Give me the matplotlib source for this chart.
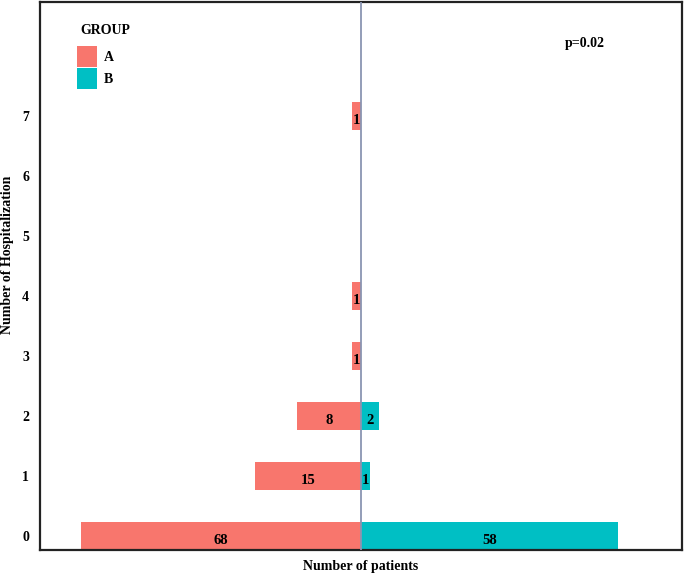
import numpy as np
import matplotlib
matplotlib.use("Agg")
import matplotlib.pyplot as plt
from matplotlib.patches import Patch

plt.rcParams['font.family'] = ['Liberation Serif', 'DejaVu Serif']
plt.rcParams['font.weight'] = 'bold'

hospitalizations = [0, 1, 2, 3, 4, 5, 6, 7]
group_a = [68, 15, 8, 1, 1, 0, 0, 1]
group_b = [58, 1, 2, 0, 0, 0, 0, 0]
group_names = ["A", "B"]
colors = ["#F8766D", "#00BFC4"]
p_text = "p=0.02"

C = 20.0
def fwd(x):
    x = np.asarray(x, dtype=float)
    return np.sign(x) * np.log1p(np.abs(x) / C)
def inv(y):
    y = np.asarray(y, dtype=float)
    return np.sign(y) * C * np.expm1(np.abs(y))

fig = plt.figure(figsize=(6.85, 5.76), dpi=100)
ax = fig.add_axes([40/685, 1 - 550/576, (682-40)/685, (550-2)/576])
ax.set_xscale('function', functions=(fwd, inv))

h = 0.467
ya = np.array(hospitalizations, dtype=float)
a = np.array(group_a, dtype=float)
b = np.array(group_b, dtype=float)
ax.barh(ya, -a, height=h, color=colors[0], edgecolor='none', zorder=2)
ax.barh(ya, b, height=h, color=colors[1], edgecolor='none', zorder=2)

for y, v in zip(ya, a):
    if v > 0:
        xm = -float(inv(fwd(v) / 2))
        ax.text(xm, y - 0.07, f"{int(v)}", ha='center', va='center',
                fontsize=10.5, fontweight='bold', zorder=4)
for y, v in zip(ya, b):
    if v > 0:
        xm = float(inv(fwd(v) / 2))
        ax.text(xm, y - 0.07, f"{int(v)}", ha='center', va='center',
                fontsize=10.5, fontweight='bold', zorder=4)

ax.axvline(0, color='#8A95B2', lw=1.3, zorder=3)

ax.set_xlim(-89.4, 89.4)
ax.set_ylim(-h / 2, 8.9)
ax.set_yticks(hospitalizations)
ax.set_yticklabels([str(v) for v in hospitalizations], fontsize=10, fontweight='bold')
ax.set_xticks([])
ax.tick_params(axis='y', length=0, pad=8)
for s in ax.spines.values():
    s.set_linewidth(1.6)
    s.set_color('#222222')

ax.set_xlabel("Number of patients", fontsize=10, fontweight='bold', labelpad=7)
fig.text(8/685, 1 - 255/576, "Number of Hospitalization", rotation=90,
         ha='center', va='center', fontsize=10, fontweight='bold')

fig.text(585/685, 1 - 44/576, p_text, ha='center', va='center', fontsize=10, fontweight='bold')

fig.text(80/685, 1 - 31/576, "GROUP", ha='left', va='center', fontsize=10, fontweight='bold')
handles = [Patch(facecolor=colors[i], edgecolor='none', label=group_names[i]) for i in range(2)]
leg = ax.legend(handles=handles, loc='upper left',
                bbox_to_anchor=((77 - 40) / 642, 1 - (46 - 2) / 548),
                frameon=False, fontsize=10,
                handlelength=1.45, handleheight=2.0, labelspacing=0.02,
                handletextpad=0.5, borderaxespad=0, borderpad=0)
for t in leg.get_texts():
    t.set_fontweight('bold')

fig.savefig("out.png", dpi=100)
